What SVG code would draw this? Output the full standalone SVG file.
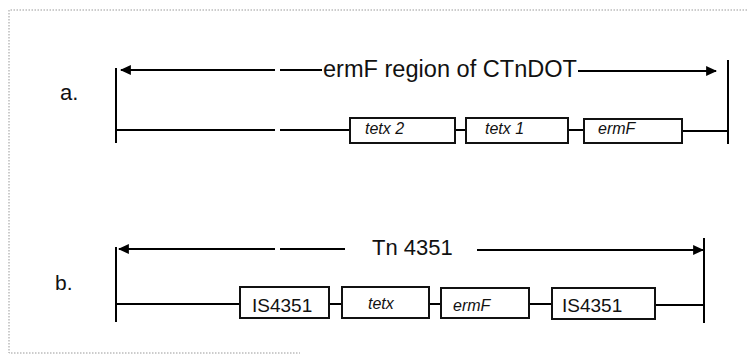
<svg xmlns="http://www.w3.org/2000/svg" width="750" height="356" viewBox="0 0 750 356">
<defs>
<style>
.ln{stroke:#000;stroke-width:2;fill:none}
.bx{stroke:#111;stroke-width:2;fill:#fff}
.bt{font-family:"Liberation Sans",Arial,sans-serif;font-size:16px;font-style:italic;fill:#111}
.bt2{font-family:"Liberation Sans",Arial,sans-serif;font-size:19px;fill:#111}
.lab{font-family:"Liberation Sans",Arial,sans-serif;fill:#111}
.frame{stroke:#999;stroke-width:1;fill:none;stroke-dasharray:1.5 1.5}
</style>
<marker id="ah" viewBox="0 0 10 10" refX="9" refY="5" markerWidth="5.5" markerHeight="5.5" orient="auto-start-reverse" markerUnits="strokeWidth">
<path d="M0,0.5 L10,5 L0,9.5 Z" fill="#000"/>
</marker>
</defs>
<rect width="750" height="356" fill="#fff"/>
<path class="frame" d="M747,10 H9 V353 H300"/>

<text class="lab" x="60" y="100" font-size="22">a.</text>
<text class="lab" x="55" y="290" font-size="21">b.</text>

<g id="connectors">
<!-- part a -->
<path class="ln" d="M116,68 V143"/>
<path class="ln" d="M728,60 V144"/>
<path class="ln" d="M275,70 H121" marker-end="url(#ah)"/>
<path class="ln" d="M280,70 H322"/>
<path class="ln" d="M578,71 H716" marker-end="url(#ah)"/>
<path class="ln" d="M116,130 H275"/>
<path class="ln" d="M280,130 H350"/>
<path class="ln" d="M455,130 H466"/>
<path class="ln" d="M568,130 H584"/>
<path class="ln" d="M682,131 H728"/>
<!-- part b -->
<path class="ln" d="M116,247 V322"/>
<path class="ln" d="M704,238 V323"/>
<path class="ln" d="M275,249 H119" marker-end="url(#ah)"/>
<path class="ln" d="M280,249 H345"/>
<path class="ln" d="M477,250 H703" marker-end="url(#ah)"/>
<path class="ln" d="M116,304 H240"/>
<path class="ln" d="M329,304 H342"/>
<path class="ln" d="M429,304 H441"/>
<path class="ln" d="M529,304 H552"/>
<path class="ln" d="M655,305 H704"/>
</g>

<text class="lab" x="323" y="77" font-size="23" textLength="254" lengthAdjust="spacingAndGlyphs">ermF region of CTnDOT</text>
<text class="lab" x="372" y="255" font-size="22">Tn 4351</text>

<g id="a-tetx2">
<rect class="bx" x="350" y="118" width="105" height="25"/>
<text class="bt" x="365" y="134">tetx 2</text>
</g>
<g id="a-tetx1">
<rect class="bx" x="466" y="118" width="102" height="25"/>
<text class="bt" x="485" y="134">tetx 1</text>
</g>
<g id="a-ermF">
<rect class="bx" x="584" y="119" width="98" height="24"/>
<text class="bt" x="598" y="134">ermF</text>
</g>

<g id="b-IS4351-1">
<rect class="bx" x="240" y="287" width="89" height="31"/>
<text class="bt2" x="252" y="312">IS4351</text>
</g>
<g id="b-tetx">
<rect class="bx" x="342" y="287" width="87" height="31"/>
<text class="bt" x="368" y="309">tetx</text>
</g>
<g id="b-ermF">
<rect class="bx" x="441" y="288" width="88" height="30"/>
<text class="bt" x="453" y="311">ermF</text>
</g>
<g id="b-IS4351-2">
<rect class="bx" x="552" y="288" width="103" height="31"/>
<text class="bt2" x="562" y="312">IS4351</text>
</g>
</svg>
